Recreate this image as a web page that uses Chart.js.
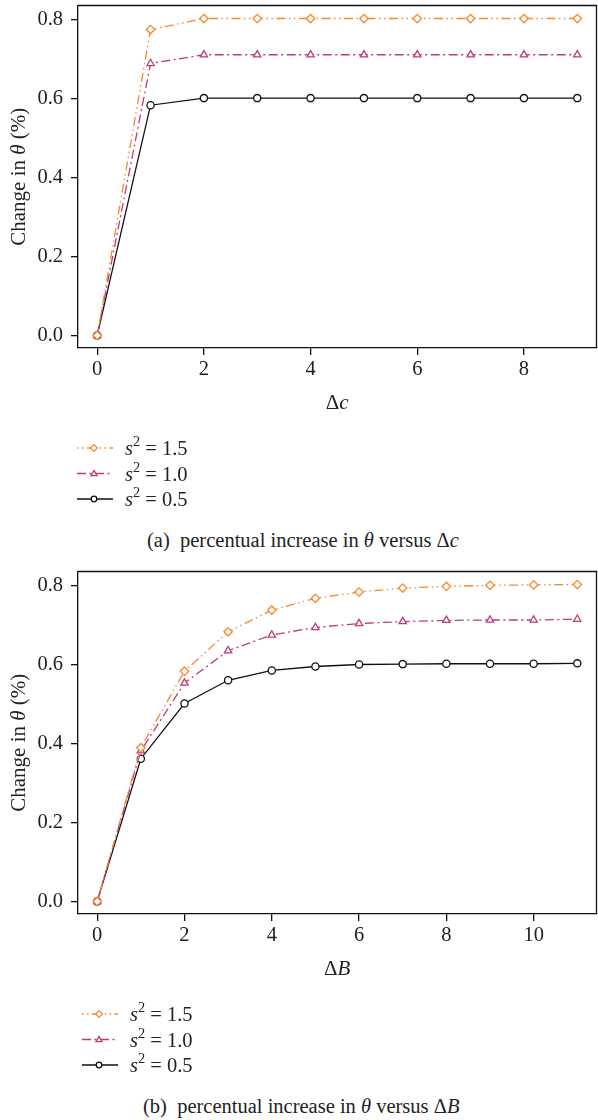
<!DOCTYPE html>
<html>
<head>
<meta charset="utf-8">
<script src="https://cdn.jsdelivr.net/npm/chart.js@4"></script>
<style>
  html, body { margin: 0; padding: 0; background: #fff; overflow: hidden; width: 598px; height: 1120px; }
  .panel { position: relative; width: 598px; height: 566px; }
  .panel canvas { position: absolute; left: 0; top: 0; }
  .cap { position: absolute; top: 528px; white-space: nowrap; font: 20.5px "Liberation Serif", serif; color: #222; line-height: 24px; }
</style>
</head>
<body>
<div class="panel">
  <canvas id="chartC" width="602" height="520"></canvas>
  <div class="cap" style="left:147px">(a)&nbsp; percentual increase in <i>θ</i> versus Δ<i>c</i></div>
</div>
<div class="panel">
  <canvas id="chartB" width="602" height="520"></canvas>
  <div class="cap" style="left:143px">(b)&nbsp; percentual increase in <i>θ</i> versus Δ<i>B</i></div>
</div>
<script>
// panel (a): change versus delta c
const deltaC = [0, 1, 2, 3, 4, 5, 6, 7, 8, 9];
const cS15 = [0, 0.776, 0.804, 0.804, 0.804, 0.804, 0.804, 0.804, 0.804, 0.804];
const cS10 = [0, 0.690, 0.712, 0.712, 0.712, 0.712, 0.712, 0.712, 0.712, 0.712];
const cS05 = [0, 0.584, 0.602, 0.602, 0.602, 0.602, 0.602, 0.602, 0.602, 0.602];

// panel (b): change versus delta B
const deltaB = [0, 1, 2, 3, 4, 5, 6, 7, 8, 9, 10, 11];
const bS15 = [0, 0.390, 0.584, 0.684, 0.739, 0.769, 0.785, 0.795, 0.799, 0.802, 0.803, 0.804];
const bS10 = [0, 0.382, 0.554, 0.636, 0.676, 0.695, 0.705, 0.710, 0.713, 0.714, 0.714, 0.716];
const bS05 = [0, 0.362, 0.502, 0.561, 0.586, 0.596, 0.601, 0.602, 0.603, 0.603, 0.603, 0.604];

const xTicksC = [0, 2, 4, 6, 8];
const xTicksB = [0, 2, 4, 6, 8, 10];
const yTicks = [0, 0.2, 0.4, 0.6, 0.8];
const seriesNames = ["1.5", "1.0", "0.5"];

const FONT = '"Liberation Serif", serif';
const styles = [
  { color: "#f7882f", dash: [1.5, 3.5, 1.5, 3.5, 9, 3.5], marker: "diamond" },
  { color: "#bf3a78", dash: [9, 3.5, 2, 3.5], marker: "triangle" },
  { color: "#111111", dash: [], marker: "circle" },
];
const pointStyleMap = { diamond: "rectRot", triangle: "triangle", circle: "circle" };

function marker(ctx, kind, x, y, r) {
  ctx.beginPath();
  if (kind === "circle") {
    ctx.arc(x, y, r, 0, Math.PI * 2);
  } else if (kind === "triangle") {
    ctx.moveTo(x, y - r * 1.1);
    ctx.lineTo(x + r * 1.1, y + r * 0.75);
    ctx.lineTo(x - r * 1.1, y + r * 0.75);
    ctx.closePath();
  } else {
    ctx.moveTo(x, y - r * 1.2);
    ctx.lineTo(x + r * 1.2, y);
    ctx.lineTo(x, y + r * 1.2);
    ctx.lineTo(x - r * 1.2, y);
    ctx.closePath();
  }
  ctx.fillStyle = "#fff";
  ctx.fill();
  ctx.stroke();
}

// text made of pieces, some italic, some superscript
function richWidth(ctx, parts, size) {
  let w = 0;
  parts.forEach((p) => {
    const s = p.sup ? size * 0.7 : size;
    ctx.font = (p.i ? "italic " : "") + s + "px " + FONT;
    w += ctx.measureText(p.t).width;
  });
  return w;
}
function richText(ctx, parts, x, y, size) {
  ctx.textBaseline = "alphabetic";
  ctx.textAlign = "left";
  parts.forEach((p) => {
    const s = p.sup ? size * 0.7 : size;
    ctx.font = (p.i ? "italic " : "") + s + "px " + FONT;
    ctx.fillText(p.t, x, p.sup ? y - size * 0.42 : y);
    x += ctx.measureText(p.t).width;
  });
}

function makeChart(id, xs, series, xTicks, xMin, xMax, xTitle, legendX) {
  const datasets = series.map((vals, k) => ({
    data: xs.map((x, i) => ({ x: x, y: vals[i] })),
    borderColor: styles[k].color,
    borderWidth: 1.3,
    borderDash: styles[k].dash,
    pointStyle: pointStyleMap[styles[k].marker],
    pointRadius: styles[k].marker === "circle" ? 3.6 : 4.2,
    pointBorderWidth: 1.3,
    pointBorderColor: styles[k].color,
    pointBackgroundColor: "#fff",
    tension: 0,
  }));

  const decorations = {
    id: "decorations",
    afterDraw(chart) {
      const ctx = chart.ctx;
      const a = chart.chartArea;
      ctx.save();
      ctx.strokeStyle = "#111";
      ctx.lineWidth = 1.3;
      ctx.beginPath();
      ctx.moveTo(a.left, a.top);
      ctx.lineTo(a.right, a.top);
      ctx.lineTo(a.right, a.bottom);
      ctx.stroke();

      ctx.fillStyle = "#222";
      // x title
      const xw = richWidth(ctx, xTitle, 21);
      richText(ctx, xTitle, (a.left + a.right) / 2 - xw / 2, a.bottom + 61, 21);
      // y title
      const yt = [{ t: "Change in " }, { t: "θ", i: true }, { t: " (%)" }];
      const yw = richWidth(ctx, yt, 21);
      ctx.translate(25, (a.top + a.bottom) / 2);
      ctx.rotate(-Math.PI / 2);
      richText(ctx, yt, -yw / 2, 0, 21);
      ctx.setTransform(1, 0, 0, 1, 0, 0);

      // legend
      seriesNames.forEach((name, k) => {
        const y = a.bottom + 100 + k * 25.5;
        ctx.strokeStyle = styles[k].color;
        ctx.lineWidth = 1.3;
        ctx.setLineDash(styles[k].dash);
        ctx.beginPath();
        ctx.moveTo(legendX, y);
        ctx.lineTo(legendX + 36, y);
        ctx.stroke();
        ctx.setLineDash([]);
        marker(ctx, styles[k].marker, legendX + 17, y, 2.8);
        ctx.fillStyle = "#222";
        richText(ctx, [{ t: "s", i: true }, { t: "2", sup: true }, { t: " = " + name }], legendX + 48, y + 7, 20.5);
      });
      ctx.restore();
    },
  };

  return new Chart(document.getElementById(id), {
    type: "line",
    data: { datasets: datasets },
    options: {
      responsive: false,
      animation: false,
      events: [],
      layout: { padding: { top: 3, right: 2, left: 0, bottom: 0 } },
      plugins: { legend: { display: false }, tooltip: { enabled: false } },
      scales: {
        x: {
          type: "linear",
          min: xMin,
          max: xMax,
          afterBuildTicks: (s) => { s.ticks = xTicks.map((v) => ({ value: v })); },
          afterFit: (s) => { s.height = 172; s.paddingLeft = 0; s.paddingRight = 0; },
          ticks: { font: { family: FONT, size: 20.5 }, color: "#222", padding: 2, maxRotation: 0 },
          grid: { drawOnChartArea: false, tickLength: 7, color: "#111", lineWidth: 1.3 },
          border: { display: true, color: "#111", width: 1.3 },
        },
        y: {
          min: -0.032,
          max: 0.837,
          afterBuildTicks: (s) => { s.ticks = yTicks.map((v) => ({ value: v })); },
          afterFit: (s) => { s.width = 78; s.paddingTop = 0; s.paddingBottom = 0; },
          ticks: { font: { family: FONT, size: 20.5 }, color: "#222", padding: 8, callback: (v) => v.toFixed(1) },
          grid: { drawOnChartArea: false, tickLength: 7, color: "#111", lineWidth: 1.3 },
          border: { display: true, color: "#111", width: 1.3 },
        },
      },
    },
    plugins: [decorations],
  });
}

makeChart("chartC", deltaC, [cS15, cS10, cS05], xTicksC, -0.36, 9.36,
  [{ t: "Δ" }, { t: "c", i: true }], 77);
makeChart("chartB", deltaB, [bS15, bS10, bS05], xTicksB, -0.44, 11.44,
  [{ t: "Δ" }, { t: "B", i: true }], 82);
</script>
</body>
</html>
